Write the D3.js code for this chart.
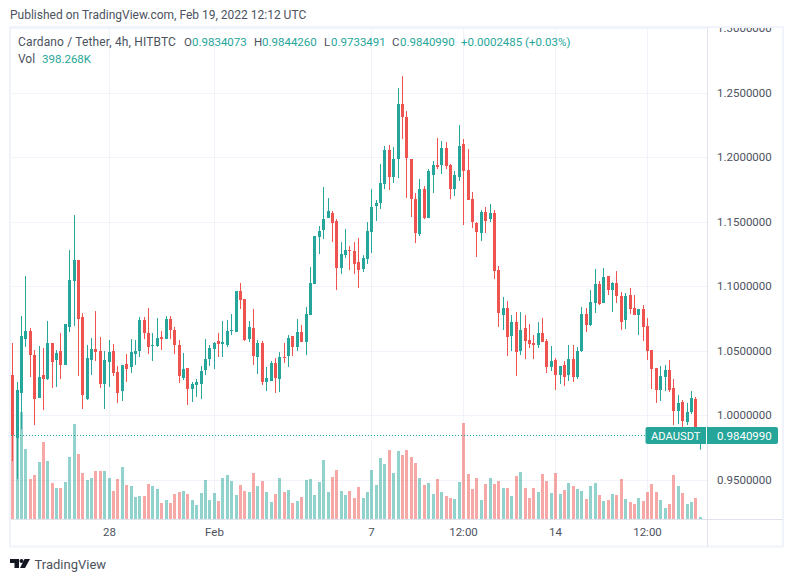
<!DOCTYPE html>
<html><head><meta charset="utf-8">
<script src="https://cdn.jsdelivr.net/npm/d3@7"></script>
<style>
html,body{margin:0;padding:0;background:#fff;overflow:hidden}
svg{display:block}
text{font-family:Roboto,sans-serif;font-size:12px;fill:#4c525e}
</style></head><body>
<svg id="c" width="793" height="582"></svg>
<script>
const opens=[1.0312,.9824,1.0173,1.0591,1.0653,1.0467,1.0134,1.0312,1.0281,1.0561,1.0429,1.0498,1.0390,1.0685,1.1041,1.1204,1.0762,1.0126,1.0429,1.0514,1.0498,1.0243,1.0413,1.0498,1.0335,1.0188,1.0398,1.0375,1.0475,1.0498,1.0739,1.0638,1.0537,1.0537,1.0607,1.0591,1.0746,1.0661,1.0545,1.0289,1.0367,1.0204,1.0235,1.0243,1.0351,1.0436,1.0514,1.0576,1.0553,1.0545,1.0653,1.0645,1.0963,1.0902,1.0591,1.0677,1.0452,1.0561,1.0258,1.0266,1.0406,1.0281,1.0452,1.0459,1.0614,1.0530,1.0645,1.0568,1.0777,1.1018,1.1382,1.1436,1.1529,1.1568,1.1506,1.1142,1.1242,1.1281,1.1273,1.1188,1.1134,1.1211,1.1420,1.1622,1.1646,1.1793,1.2056,1.1847,1.1986,1.2413,1.2312,1.1986,1.1676,1.1405,1.1753,1.1529,1.1862,1.1940,1.1940,1.2072,1.1940,1.1753,1.1847,1.2103,1.1901,1.1676,1.1491,1.1413,1.1575,1.1521,1.1568,1.1126,1.0777,1.0832,1.0614,1.0723,1.0498,1.0677,1.0584,1.0561,1.0545,1.0638,1.0576,1.0375,1.0429,1.0312,1.0390,1.0312,1.0436,1.0297,1.0498,1.0785,1.0700,1.0871,1.1018,1.0871,1.1079,1.0971,1.1026,1.0925,1.0739,1.0932,1.0832,1.0777,1.0824,1.0692,1.0506,1.0367,1.0196,1.0297,1.0351,1.0212,1.0033,1.0103,.9948,1.0025,1.0126,.9834073];
const highs=[1.0561,1.0258,1.0769,1.1079,1.0677,1.0506,1.0537,1.0522,1.0731,1.0561,1.0506,1.0638,1.0708,1.1281,1.1552,1.1204,1.0793,1.0545,1.0599,1.0808,1.0607,1.0498,1.0584,1.0553,1.0382,1.0390,1.0475,1.0591,1.0584,1.0762,1.0762,1.0832,1.0638,1.0754,1.0653,1.0769,1.0769,1.0685,1.0584,1.0483,1.0367,1.0258,1.0281,1.0382,1.0591,1.0545,1.0568,1.0638,1.0731,1.0739,1.0785,1.0963,1.1026,1.0902,1.0731,1.0824,1.0584,1.0576,1.0375,1.0421,1.0444,1.0490,1.0561,1.0622,1.0614,1.0746,1.0700,1.0840,1.1150,1.1389,1.1467,1.1770,1.1684,1.1583,1.1521,1.1343,1.1444,1.1312,1.1343,1.1374,1.1242,1.1498,1.1753,1.1669,1.1948,1.2087,1.2095,1.2079,1.2537,1.2629,1.2358,1.1986,1.1723,1.1832,1.1777,1.1909,1.1971,1.2150,1.2126,1.2118,1.1948,1.1894,1.2250,1.2142,1.2064,1.1731,1.1498,1.1591,1.1615,1.1638,1.1591,1.1157,1.0917,1.0886,1.0777,1.0800,1.0800,1.0777,1.0708,1.0622,1.0723,1.0754,1.0591,1.0537,1.0444,1.0382,1.0421,1.0545,1.0545,1.0530,1.0840,1.0832,1.0971,1.1134,1.1041,1.1142,1.1079,1.1033,1.1118,1.0955,1.0948,1.0987,1.0932,1.0824,1.0855,1.0754,1.0506,1.0367,1.0382,1.0390,1.0429,1.0281,1.0157,1.0119,1.0096,1.0188,1.0142,.9844260];
const lows=[.9645,.9506,.9893,1.0530,1.0297,.9924,1.0134,1.0041,1.0274,1.0212,1.0220,1.0281,1.0390,1.0645,1.0692,1.0304,1.0049,1.0119,1.0312,1.0421,1.0212,1.0049,1.0220,1.0304,1.0096,1.0111,1.0258,1.0328,1.0390,1.0452,1.0591,1.0475,1.0421,1.0530,1.0506,1.0591,1.0591,1.0475,1.0251,1.0274,1.0080,1.0103,1.0142,1.0126,1.0312,1.0382,1.0359,1.0452,1.0452,1.0530,1.0622,1.0645,1.0824,1.0576,1.0568,1.0390,1.0320,1.0235,1.0188,1.0266,1.0173,1.0180,1.0406,1.0375,1.0459,1.0498,1.0568,1.0467,1.0777,1.1018,1.1250,1.1366,1.1529,1.1343,1.0971,1.1095,1.1219,1.1126,1.1095,1.0987,1.1110,1.1173,1.1258,1.1506,1.1599,1.1753,1.1746,1.1801,1.1839,1.2142,1.1684,1.1537,1.1335,1.1389,1.1521,1.1529,1.1723,1.1909,1.1870,1.1909,1.1676,1.1699,1.1816,1.1475,1.1669,1.1451,1.1227,1.1351,1.1413,1.1498,1.1056,1.0685,1.0661,1.0459,1.0498,1.0304,1.0467,1.0436,1.0522,1.0436,1.0522,1.0568,1.0328,1.0343,1.0196,1.0243,1.0227,1.0266,1.0258,1.0281,1.0490,1.0645,1.0692,1.0793,1.0855,1.0871,1.0932,1.0800,1.0871,1.0661,1.0669,1.0785,1.0777,1.0622,1.0576,1.0429,1.0204,1.0096,1.0111,1.0188,1.0180,.9924,.9932,.9886,.9924,1.0010,.9825,.9733491];
const closes=[.9847,1.0196,1.0614,1.0653,1.0467,1.0126,1.0297,1.0281,1.0561,1.0413,1.0483,1.0390,1.0708,1.1049,1.1204,1.0746,1.0157,1.0444,1.0514,1.0490,1.0243,1.0429,1.0490,1.0328,1.0173,1.0390,1.0359,1.0490,1.0498,1.0739,1.0638,1.0530,1.0545,1.0599,1.0591,1.0746,1.0661,1.0545,1.0304,1.0359,1.0204,1.0243,1.0258,1.0343,1.0436,1.0522,1.0561,1.0553,1.0568,1.0653,1.0661,1.0963,1.0894,1.0584,1.0685,1.0459,1.0561,1.0258,1.0289,1.0406,1.0289,1.0452,1.0444,1.0599,1.0530,1.0645,1.0568,1.0785,1.1026,1.1389,1.1428,1.1521,1.1583,1.1491,1.1142,1.1250,1.1281,1.1273,1.1173,1.1126,1.1219,1.1428,1.1615,1.1646,1.1801,1.2056,1.1847,1.1986,1.2413,1.2312,1.1994,1.1676,1.1413,1.1753,1.1529,1.1894,1.1940,1.1925,1.2072,1.1932,1.1753,1.1862,1.2087,1.1894,1.1669,1.1498,1.1420,1.1575,1.1506,1.1568,1.1118,1.0793,1.0832,1.0607,1.0723,1.0490,1.0661,1.0576,1.0553,1.0545,1.0638,1.0568,1.0375,1.0421,1.0312,1.0382,1.0297,1.0436,1.0297,1.0498,1.0785,1.0700,1.0878,1.1018,1.0863,1.1072,1.0971,1.1026,1.0925,1.0723,1.0925,1.0824,1.0777,1.0824,1.0685,1.0498,1.0359,1.0196,1.0304,1.0351,1.0196,1.0033,1.0096,.9955,1.0025,1.0134,.9834,.9840990];
const volumes=[16800,24600,21400,14000,8000,8800,11400,15400,11600,7200,6200,6200,7400,12400,19000,13000,9200,7800,8200,9600,9600,9600,8200,5600,8000,10400,6800,6600,4400,4600,4600,7000,6600,6000,3200,3800,3200,5000,5400,5600,5000,3800,2800,5200,7800,3800,5200,3600,8200,8800,7600,4800,6800,5600,5400,9200,6600,7600,5400,3400,5000,8200,5400,5800,3200,3600,4400,7800,8000,4800,7400,11800,5400,8400,9800,5600,4800,5600,4200,6400,4200,5400,9800,6800,12200,11000,13800,9200,13600,12800,13800,12400,11200,8200,6800,7200,5000,8000,5400,4600,4200,4000,7400,19200,9000,6000,8200,3800,7000,8200,7000,7600,6200,6200,4600,8600,9400,6200,4200,6200,5400,9000,7600,5200,9200,5000,5800,7200,6600,6000,5600,4000,6600,7200,4800,3600,3800,5000,4800,8000,4000,3400,3000,4200,3600,5400,7000,5400,3800,2200,3000,8800,6600,5200,3000,3400,4200,398.268];
const priceTicks=[1.3,1.25,1.2,1.15,1.1,1.05,1,0.95];
const timeTickIndex=[22,46,82,103,124,145];
const timeTickLabels=["28","Feb","7","12:00","14","12:00"];
const lastPrice=0.984099;

const UP="#26a69a",DOWN="#ef5350",GRID="#f0f3fa",AXIS="#e0e3eb",TXT="#4c525e";
const svg=d3.select("#c");
const x=d3.scaleLinear().domain([0,157]).range([12.3,699.65]);
const y=d3.scaleLinear().domain([0.95,1.3]).range([479.8,28.3]);
const v=d3.scaleLinear().domain([0,19200]).range([519,423]);
const idx=d3.range(opens.length);
const X=i=>Math.round(x(i));

// frame
svg.append("rect").attr("x",9).attr("y",26).attr("width",775).attr("height",521.5).attr("fill",GRID);
svg.append("rect").attr("x",11).attr("y",28).attr("width",771).attr("height",517.5).attr("fill","#fff");
const defs=svg.append("defs");
defs.append("clipPath").attr("id","pane").append("rect").attr("x",11).attr("y",28).attr("width",696).attr("height",491);
defs.append("clipPath").attr("id","right").append("rect").attr("x",708).attr("y",28).attr("width",74).attr("height",491);

// grid
const g=svg.append("g").attr("clip-path","url(#pane)");
g.append("g").selectAll("line").data(priceTicks).join("line")
 .attr("x1",11).attr("x2",707).attr("y1",d=>Math.round(y(d))+.5).attr("y2",d=>Math.round(y(d))+.5).attr("stroke",GRID);
g.append("g").selectAll("line").data(timeTickIndex).join("line")
 .attr("y1",28).attr("y2",519).attr("x1",d=>X(d)+.5).attr("x2",d=>X(d)+.5).attr("stroke",GRID);

// volume
g.append("g").attr("opacity",.5).selectAll("rect").data(idx).join("rect")
 .attr("x",i=>X(i)-1).attr("width",3).attr("y",i=>Math.round(v(volumes[i]))).attr("height",i=>519-Math.round(v(volumes[i])))
 .attr("fill",i=>closes[i]>=opens[i]?UP:DOWN);

// last price line
g.append("line").attr("x1",11).attr("x2",707).attr("y1",Math.floor(y(lastPrice))+.5).attr("y2",Math.floor(y(lastPrice))+.5)
 .attr("stroke",UP).attr("stroke-dasharray","1 2");

// candles
const c=g.append("g").selectAll("g").data(idx).join("g").attr("fill",i=>closes[i]>=opens[i]?UP:DOWN);
c.append("rect").attr("x",i=>X(i)).attr("width",1).attr("y",i=>y(highs[i])).attr("height",i=>y(lows[i])-y(highs[i]));
c.append("rect").attr("x",i=>X(i)-1).attr("width",3)
 .attr("y",i=>Math.round(y(Math.max(opens[i],closes[i]))))
 .attr("height",i=>Math.max(1,Math.round(y(Math.min(opens[i],closes[i])))-Math.round(y(Math.max(opens[i],closes[i])))));

// axes
svg.append("line").attr("x1",707.5).attr("x2",707.5).attr("y1",28).attr("y2",546).attr("stroke",AXIS);
svg.append("line").attr("x1",11).attr("x2",783).attr("y1",519.5).attr("y2",519.5).attr("stroke",AXIS);
const pa=svg.append("g").attr("clip-path","url(#right)")
 .call(d3.axisRight(y).tickValues(priceTicks).tickFormat(d3.format(".7f")).tickSize(0).tickPadding(0));
pa.select(".domain").remove();
pa.selectAll("text").attr("x",717).attr("dy","0.3em").style("fill",TXT).style("font-size","11.5px").style("font-family","Roboto,sans-serif");
const ta=svg.append("g").attr("transform","translate(0,528)")
 .call(d3.axisBottom(d3.scaleOrdinal().domain(timeTickLabels.map((d,i)=>i)).range(timeTickIndex.map(X))).tickFormat(i=>timeTickLabels[i]).tickSize(0).tickPadding(0));
ta.select(".domain").remove();
ta.selectAll("text").style("fill",TXT).style("font-size","11.5px").style("font-family","Roboto,sans-serif");

// price labels
const ly=Math.floor(y(lastPrice))+.5;
const lab=svg.append("g");
lab.append("path").attr("d",`M706 ${ly-8.5}H647.5a2 2 0 0 0 -2 2V${ly+6.5}a2 2 0 0 0 2 2H706Z`).attr("fill",UP);
lab.append("path").attr("d",`M707 ${ly-8.5}H776a2 2 0 0 1 2 2V${ly+6.5}a2 2 0 0 1 -2 2H707Z`).attr("fill",UP);
lab.append("text").attr("x",651).attr("y",ly+4).text("ADAUSDT").style("fill","#fff").style("font-size","11.2px");
lab.append("text").attr("x",717).attr("y",ly+4).text("0.9840990").style("fill","#fff").style("font-size","11.5px");

// header
const t=(xp,yp,s,f,fs)=>svg.append("text").attr("x",xp).attr("y",yp).text(s).style("fill",f||TXT).style("font-size",(fs||11.5)+"px");
t(10,19,"Published on TradingView.com, Feb 19, 2022 12:12 UTC",TXT,12);
t(18,46,"Cardano / Tether, 4h, HITBTC",TXT,12).style("letter-spacing","0.15px");
t(184,46,"O");t(192,46,"0.9834073",UP);
t(254,46,"H");t(262,46,"0.9844260",UP);
t(324,46,"L");t(331,46,"0.9733491",UP);
t(392,46,"C");t(400,46,"0.9840990",UP);
t(461,46,"+0.0002485 (+0.03%)",UP);
t(18,63,"Vol",TXT,12);t(42,63,"398.268K",UP);

// footer logo
const logo=svg.append("g").attr("fill","#131722");
logo.append("path").attr("d","M10 559H19V568H14.5V563H10Z");
logo.append("circle").attr("cx",21.5).attr("cy",561).attr("r",2);
logo.append("path").attr("d","M24.5 559H30L25 568H20Z");
svg.append("text").attr("x",34.5).attr("y",568.5).text("TradingView").style("font-size","13px").style("fill",TXT);
</script>
</body></html>
